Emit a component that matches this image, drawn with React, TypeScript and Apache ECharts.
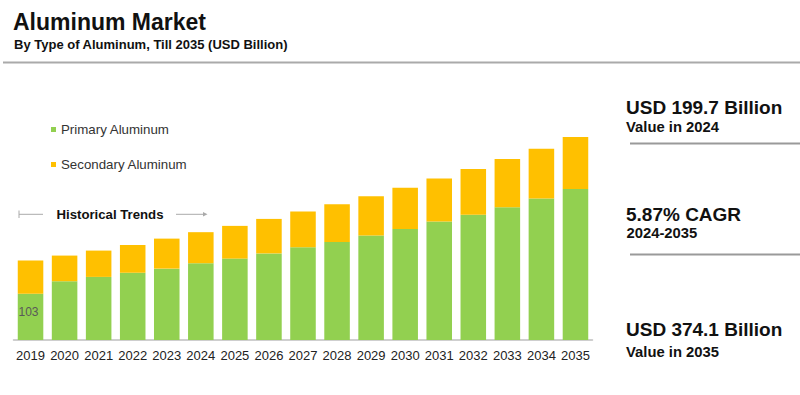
import React, { useEffect, useRef } from "react";
import * as echarts from "echarts";

const years = ["2019","2020","2021","2022","2023","2024","2025","2026","2027","2028","2029","2030","2031","2032","2033","2034","2035"];
const primaryAluminum = [103, 130.6, 140.2, 149.7, 158.6, 170.6, 180.9, 192.4, 206.2, 218, 232, 246.9, 263.2, 278.1, 295.2, 314.3, 335.3];
const secondaryAluminum = [73.4, 57, 58.5, 61.6, 66.7, 69, 72.7, 76.7, 79.2, 83.9, 87.7, 91.2, 95.7, 101.7, 106.8, 110.6, 115.7];
const seriesNames = ["Primary Aluminum", "Secondary Aluminum"];
const labelledIndex = 0;

const FONT = "'Liberation Sans', Arial, sans-serif";

export default function App() {
  const ref = useRef<HTMLDivElement>(null);
  useEffect(() => {
    document.body.style.margin = "0";
    const chart = echarts.init(ref.current!, null, { renderer: "svg" });
    const txt = (x: number, y: number, text: string, size: number, bold = true, color = "#111") => ({
      type: "text", x, y,
      style: { text, fontSize: size, fontWeight: bold ? "bold" : "normal", fontFamily: FONT, fill: color, textVerticalAlign: "middle", textAlign: "left" },
    });
    chart.setOption({
      animation: false,
      backgroundColor: "#ffffff",
      grid: { left: 13.5, width: 579, bottom: 55, top: 115 },
      xAxis: {
        type: "category",
        data: years,
        axisLine: { lineStyle: { color: "#bfbfbf", width: 1.5 } },
        axisTick: { show: false },
        axisLabel: { color: "#222", fontSize: 13, fontFamily: FONT, margin: 9, interval: 0 },
      },
      yAxis: { type: "value", min: 0, max: 500, show: false, splitLine: { show: false } },
      legend: {
        orient: "vertical", left: 46, top: 118,
        itemWidth: 5, itemHeight: 5, itemGap: 22,
        icon: "rect",
        textStyle: { fontSize: 13.3, fontFamily: FONT, color: "#333" },
        data: seriesNames,
      },
      series: [
        {
          name: seriesNames[0], type: "bar", stack: "a", barCategoryGap: "25%",
          itemStyle: { color: "#92D050" },
          data: primaryAluminum.map((v, i) => i === labelledIndex
            ? { value: v, label: { show: true, position: "inside", offset: [-2, -5], color: "#595959", fontSize: 12, fontFamily: FONT } }
            : v),
        },
        {
          name: seriesNames[1], type: "bar", stack: "a", barCategoryGap: "25%",
          itemStyle: { color: "#FFC000" },
          data: secondaryAluminum,
        },
      ],
      graphic: [
        txt(13, 21.5, "Aluminum Market", 23),
        txt(14, 44, "By Type of Aluminum, Till 2035 (USD Billion)", 13),
        { type: "rect", shape: { x: 3, y: 61.5, width: 797, height: 2 }, style: { fill: "#aaaaaa" } },
        { type: "line", shape: { x1: 19, y1: 214.3, x2: 43, y2: 214.3 }, style: { stroke: "#aaaaaa", lineWidth: 1 } },
        { type: "line", shape: { x1: 19, y1: 210.5, x2: 19, y2: 218 }, style: { stroke: "#aaaaaa", lineWidth: 1 } },
        txt(56.5, 214, "Historical Trends", 13.2),
        { type: "line", shape: { x1: 176, y1: 214.3, x2: 203, y2: 214.3 }, style: { stroke: "#aaaaaa", lineWidth: 1 } },
        { type: "polygon", shape: { points: [[203, 212], [207.5, 214.3], [203, 216.6]] }, style: { fill: "#aaaaaa" } },
        txt(626, 107, "USD 199.7 Billion", 19),
        txt(626, 127, "Value in 2024", 14.8),
        { type: "rect", shape: { x: 630, y: 142.5, width: 170, height: 2 }, style: { fill: "#9a9a9a" } },
        txt(626, 214.7, "5.87% CAGR", 19),
        txt(626.5, 233.3, "2024-2035", 14.8),
        { type: "rect", shape: { x: 630, y: 253.5, width: 170, height: 2 }, style: { fill: "#9a9a9a" } },
        txt(626, 329.7, "USD 374.1 Billion", 19),
        txt(626, 352, "Value in 2035", 14.8),
      ],
    });
    return () => chart.dispose();
  }, []);
  return <div ref={ref} style={{ position: "fixed", left: 0, top: 0, width: 800, height: 395 }} />;
}
